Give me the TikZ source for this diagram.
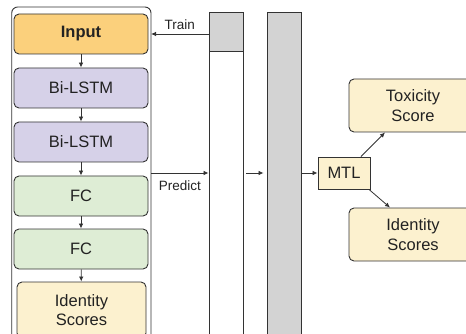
\documentclass[tikz,border=0pt]{standalone}
\usepackage{fontspec}
\setmainfont{Liberation Sans}
\usetikzlibrary{arrows.meta}
\definecolor{edge}{HTML}{333333}
\definecolor{txt}{HTML}{222222}
\definecolor{inorange}{HTML}{FBD07C}
\definecolor{lav}{HTML}{D6D1E8}
\definecolor{lgreen}{HTML}{DEEDD5}
\definecolor{lyellow}{HTML}{FCF1CF}
\definecolor{gry}{HTML}{D3D3D3}
\tikzset{
  blk/.style={draw=edge, line width=0.9pt, rounded corners=5pt, minimum width=134pt, minimum height=40pt, inner sep=0pt, font=\fontsize{16.5}{19.5}\selectfont, text=txt, align=center},
  col/.style={draw=edge, line width=0.9pt, minimum width=34pt, inner sep=0pt},
  arr/.style={draw=edge, line width=0.8pt, -{Latex[length=5pt,width=4.5pt]}},
  lbl/.style={font=\fontsize{13.5}{16}\selectfont, text=txt, inner sep=0pt}
}
\begin{document}
\begin{tikzpicture}[x=1pt,y=-1pt]
\useasboundingbox (0,0) rectangle (466,334);
\clip (0,0) rectangle (466,334);
\node[draw=edge, line width=0.9pt, rounded corners=6pt, minimum width=139.3pt, minimum height=338pt, inner sep=0pt] (cont) at (81.35,176) {};
\node[blk, fill=inorange, font=\fontsize{16.5}{19.5}\selectfont\bfseries] (inp) at (81,34) {Input};
\node[blk, fill=lav] (l1) at (81,88) {Bi-LSTM};
\node[blk, fill=lav] (l2) at (81,142) {Bi-LSTM};
\node[blk, fill=lgreen] (f1) at (81,196) {FC};
\node[blk, fill=lgreen] (f2) at (81,249) {FC};
\node[blk, fill=lyellow, minimum width=129pt, minimum height=56pt] (id1) at (81.5,310) {Identity\\Scores};
\draw[arr] (inp) -- (l1);
\draw[arr] (l1) -- (l2);
\draw[arr] (l2) -- (f1);
\draw[arr] (f1) -- (f2);
\draw[arr] (f2) -- (id1);
% columns
\node[col, fill=white, minimum height=294pt] (c1) at (226,198) {};
\node[col, fill=gry, minimum height=39pt] (c1t) at (226,31.5) {};
\node[col, fill=gry, minimum height=333pt] (c2) at (284,178.5) {};
\coordinate (tr) at (151,34);
\coordinate (pr) at (151,173);
\draw[arr] (c1t.west |- tr) -- node[lbl, above=4pt] {Train} (tr);
\draw[arr] (pr) -- node[lbl, below=7pt] {Predict} (c1.west |- pr);
\node[draw=edge, line width=0.9pt, fill=lyellow, minimum width=52pt, minimum height=32pt, inner sep=0pt, font=\fontsize{16.5}{19.5}\selectfont, text=txt] (mtl) at (344,173) {MTL};
\draw[arr, shorten <=3pt, shorten >=3pt] (c1.east |- mtl) -- (c2.west |- mtl);
\draw[arr] (c2.east |- mtl) -- (mtl.west);
\node[blk, fill=lyellow, minimum width=128pt, minimum height=53pt] (tox) at (413,105.5) {Toxicity\\Score};
\node[blk, fill=lyellow, minimum width=128pt, minimum height=53pt] (id2) at (413,234.5) {Identity\\Scores};
\draw[arr] (mtl.north -| 361,0) -- (tox.south -| 385,0);
\draw[arr] (mtl.south -| 369,0) -- (id2.north -| 390,0);
\end{tikzpicture}
\end{document}
